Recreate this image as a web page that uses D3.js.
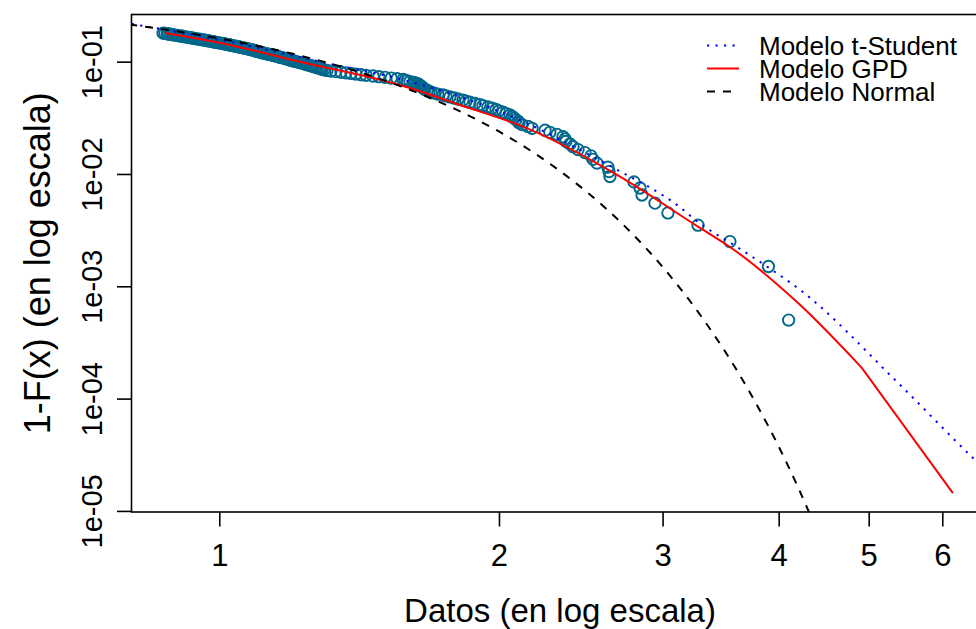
<!DOCTYPE html>
<html>
<head>
<meta charset="utf-8">
<script src="https://cdn.jsdelivr.net/npm/d3@7"></script>
<style>
  body { margin: 0; background: #fff; }
  svg { display: block; }
  text { font-family: "Liberation Sans", Arial, Helvetica, sans-serif; fill: #000; }
</style>
</head>
<body>
<svg id="chart" width="976" height="629"></svg>
<script>
// Observed data, largest first, with its empirical tail probability 1-F(x)
const datos = [
  4.100, 3.900, 3.545, 3.275, 3.040, 2.944, 2.851, 2.837, 2.795, 2.633,
  2.627, 2.620, 2.550, 2.525, 2.512, 2.475, 2.433, 2.403, 2.385, 2.361,
  2.356, 2.344, 2.309, 2.269, 2.242, 2.171, 2.149, 2.118, 2.102, 2.097,
  2.086, 2.076, 2.066, 2.055, 2.035, 2.020, 2.000, 1.985, 1.966, 1.946,
  1.922, 1.908, 1.885, 1.861, 1.843, 1.829, 1.807, 1.789, 1.771, 1.754,
  1.741, 1.719, 1.703, 1.690, 1.682, 1.674, 1.665, 1.661, 1.657, 1.653,
  1.649, 1.644, 1.640, 1.636, 1.628, 1.620, 1.604, 1.593, 1.585, 1.577,
  1.554, 1.531, 1.508, 1.485, 1.464, 1.439, 1.421, 1.403, 1.386, 1.369,
  1.352, 1.335, 1.319, 1.306, 1.296, 1.290, 1.287, 1.280, 1.274, 1.268,
  1.262, 1.258, 1.252, 1.246, 1.240, 1.237, 1.230, 1.224, 1.218, 1.212,
  1.206, 1.203, 1.197, 1.192, 1.189, 1.183, 1.177, 1.174, 1.168, 1.162,
  1.160, 1.154, 1.148, 1.145, 1.140, 1.134, 1.128, 1.126, 1.120, 1.114,
  1.112, 1.106, 1.103, 1.098, 1.095, 1.093, 1.087, 1.085, 1.079, 1.077,
  1.071, 1.066, 1.063, 1.058, 1.053, 1.050, 1.045, 1.040, 1.037, 1.032,
  1.027, 1.024, 1.019, 1.014, 1.012, 1.007, 1.002, 0.997, 0.992, 0.989,
  0.985, 0.980, 0.977, 0.972, 0.968, 0.965, 0.960, 0.956, 0.951, 0.946,
  0.942, 0.939, 0.935, 0.930, 0.928, 0.923, 0.919, 0.914, 0.912, 0.907,
  0.903, 0.901, 0.896, 0.892, 0.889, 0.885, 0.881, 0.879, 0.874, 0.870
];
const colaEmpirica = [
  0.0005, 0.0015, 0.0025, 0.0035, 0.0045, 0.0055, 0.0065, 0.0075, 0.0085, 0.0095,
  0.0105, 0.0115, 0.0125, 0.0135, 0.0145, 0.0155, 0.0165, 0.0175, 0.0185, 0.0195,
  0.0205, 0.0215, 0.0225, 0.0235, 0.0245, 0.0255, 0.0265, 0.0275, 0.0285, 0.0295,
  0.0305, 0.0315, 0.0325, 0.0335, 0.0345, 0.0355, 0.0365, 0.0375, 0.0385, 0.0395,
  0.0405, 0.0415, 0.0425, 0.0435, 0.0445, 0.0455, 0.0465, 0.0475, 0.0485, 0.0495,
  0.0505, 0.0515, 0.0525, 0.0535, 0.0545, 0.0555, 0.0565, 0.0575, 0.0585, 0.0595,
  0.0605, 0.0615, 0.0625, 0.0635, 0.0645, 0.0655, 0.0665, 0.0675, 0.0685, 0.0695,
  0.0705, 0.0715, 0.0725, 0.0735, 0.0745, 0.0755, 0.0765, 0.0775, 0.0785, 0.0795,
  0.0805, 0.0815, 0.0825, 0.0835, 0.0845, 0.0855, 0.0865, 0.0875, 0.0885, 0.0895,
  0.0905, 0.0915, 0.0925, 0.0935, 0.0945, 0.0955, 0.0965, 0.0975, 0.0985, 0.0995,
  0.1005, 0.1015, 0.1025, 0.1035, 0.1045, 0.1055, 0.1065, 0.1075, 0.1085, 0.1095,
  0.1105, 0.1115, 0.1125, 0.1135, 0.1145, 0.1155, 0.1165, 0.1175, 0.1185, 0.1195,
  0.1205, 0.1215, 0.1225, 0.1235, 0.1245, 0.1255, 0.1265, 0.1275, 0.1285, 0.1295,
  0.1305, 0.1315, 0.1325, 0.1335, 0.1345, 0.1355, 0.1365, 0.1375, 0.1385, 0.1395,
  0.1405, 0.1415, 0.1425, 0.1435, 0.1445, 0.1455, 0.1465, 0.1475, 0.1485, 0.1495,
  0.1505, 0.1515, 0.1525, 0.1535, 0.1545, 0.1555, 0.1565, 0.1575, 0.1585, 0.1595,
  0.1605, 0.1615, 0.1625, 0.1635, 0.1645, 0.1655, 0.1665, 0.1675, 0.1685, 0.1695,
  0.1705, 0.1715, 0.1725, 0.1735, 0.1745, 0.1755, 0.1765, 0.1775, 0.1785, 0.1795
];

// Fitted model tail curves, 1-F(x)
const tStudentX = [0.805, 1.002, 1.284, 1.604, 1.816, 2.14, 2.40, 2.66, 3.13, 3.275, 3.608, 3.89, 4.22, 5.363, 6.507, 6.72];
const tStudentY = [0.2166, 0.156, 0.1, 0.0664, 0.0488, 0.0284, 0.01776, 0.0113, 0.00508, 0.00374, 0.00224, 0.00149, 0.000927, 1.41e-4, 2.84e-5, 2.2e-5];

const gpdX = [0.874, 1.0, 1.221, 1.565, 1.816, 2.14, 2.68, 3.275, 3.545, 4.22, 4.918, 6.16];
const gpdY = [0.180, 0.1476, 0.1, 0.062, 0.0411, 0.0257, 0.0098, 0.0034, 0.00224, 6.8e-4, 1.87e-4, 1.44e-5];

const normalX = [0.8, 0.9, 1.0, 1.1, 1.2, 1.3, 1.4, 1.5, 1.6, 1.7, 1.8, 1.9, 2.0, 2.2, 2.4, 2.6, 2.8, 3.0, 3.2, 3.4, 3.6, 3.8, 4.0, 4.2, 4.4];
const normalY = [0.2142, 0.1864, 0.1611, 0.1381, 0.1174, 0.0990, 0.0829, 0.0688, 0.0566, 0.0462, 0.0374, 0.0300, 0.0239, 0.0147, 0.00875, 0.00503, 0.00279, 0.00149, 0.000767, 0.000381, 0.000183, 8.43e-5, 3.75e-5, 1.60e-5, 6.6e-6];

const xTicks = [1, 2, 3, 4, 5, 6];
const yTicks = [1e-1, 1e-2, 1e-3, 1e-4, 1e-5];
const yTickLabels = ["1e-01", "1e-02", "1e-03", "1e-04", "1e-05"];

const legendLabels = ["Modelo t-Student", "Modelo GPD", "Modelo Normal"];

// Layout
const plot = { left: 131.5, top: 14.5, right: 988, bottom: 512 };
const svg = d3.select("#chart");

const x = d3.scaleLog().domain([0.8045, 6.72]).range([plot.left, plot.right]);
const y = d3.scaleLog().domain([9.78e-6, 0.263]).range([plot.bottom, plot.top]);

svg.append("defs").append("clipPath").attr("id", "plotArea")
  .append("rect")
  .attr("x", plot.left).attr("y", plot.top)
  .attr("width", plot.right - plot.left).attr("height", plot.bottom - plot.top);

const area = svg.append("g").attr("clip-path", "url(#plotArea)");

// Empirical points
const puntos = datos.map((d, i) => ({ x: d, y: colaEmpirica[i] }));
area.append("g")
  .selectAll("circle")
  .data(puntos)
  .join("circle")
  .attr("cx", d => x(d.x))
  .attr("cy", d => y(d.y))
  .attr("r", 5.7)
  .attr("fill", "none")
  .attr("stroke", "#00688B")
  .attr("stroke-width", 1.9);

const smooth = d3.line().x(d => x(d[0])).y(d => y(d[1])).curve(d3.curveMonotoneX);
const straight = d3.line().x(d => x(d[0])).y(d => y(d[1]));
const pairs = (xs, ys) => xs.map((v, i) => [v, ys[i]]);

const series = [
  { xs: tStudentX, ys: tStudentY, color: "#0000FF", dash: "2.2,6.3", smoothUpTo: tStudentX.length },
  { xs: gpdX, ys: gpdY, color: "#FF0000", dash: null, smoothUpTo: gpdX.length - 1 },
  { xs: normalX, ys: normalY, color: "#000000", dash: "8,8", smoothUpTo: normalX.length }
];

series.forEach(s => {
  const pts = pairs(s.xs, s.ys);
  let d = smooth(pts.slice(0, s.smoothUpTo));
  if (s.smoothUpTo < pts.length) {
    // the last stretch of the curve is a straight segment
    d += straight(pts.slice(s.smoothUpTo - 1)).replace(/^M/, "L");
  }
  area.append("path")
    .attr("d", d)
    .attr("fill", "none")
    .attr("stroke", s.color)
    .attr("stroke-width", 2)
    .attr("stroke-dasharray", s.dash);
});

// Frame (right side lies outside the canvas)
svg.append("rect")
  .attr("x", plot.left).attr("y", plot.top)
  .attr("width", plot.right - plot.left).attr("height", plot.bottom - plot.top)
  .attr("fill", "none").attr("stroke", "#000").attr("stroke-width", 1.6);

// X axis
const xAxis = svg.append("g")
  .attr("transform", `translate(0,${plot.bottom})`)
  .call(d3.axisBottom(x).tickValues(xTicks).tickFormat(d3.format("d")).tickSize(14.5).tickSizeOuter(0));
xAxis.select(".domain").remove();
xAxis.selectAll(".tick line").attr("stroke", "#000").attr("stroke-width", 1.6);
xAxis.selectAll(".tick text")
  .attr("y", 0).attr("dy", 0)
  .attr("transform", "translate(0,54)")
  .style("font-size", "31px")
  .style("font-family", '"Liberation Sans", Arial, sans-serif');

// Y axis
const yAxis = svg.append("g")
  .attr("transform", `translate(${plot.left},0)`)
  .call(d3.axisLeft(y).tickValues(yTicks).tickFormat((d, i) => yTickLabels[i]).tickSize(14.5).tickSizeOuter(0));
yAxis.select(".domain").remove();
yAxis.selectAll(".tick line").attr("stroke", "#000").attr("stroke-width", 1.6);
yAxis.selectAll(".tick text")
  .attr("x", 0).attr("dy", 0)
  .attr("text-anchor", "middle")
  .attr("transform", "translate(-30,0) rotate(-90)")
  .style("font-size", "29px")
  .style("font-family", '"Liberation Sans", Arial, sans-serif');

// Axis titles
svg.append("text")
  .attr("x", 560).attr("y", 622)
  .attr("text-anchor", "middle")
  .style("font-size", "33px")
  .text("Datos (en log escala)");

svg.append("text")
  .attr("transform", `translate(50,${(plot.top + plot.bottom) / 2}) rotate(-90)`)
  .attr("text-anchor", "middle")
  .style("font-size", "36px")
  .text("1-F(x) (en log escala)");

// Legend
const legend = svg.append("g");
const legendRows = [45.5, 68.5, 91.5];
series.forEach((s, i) => {
  legend.append("line")
    .attr("x1", 707).attr("x2", 739)
    .attr("y1", legendRows[i]).attr("y2", legendRows[i])
    .attr("stroke", s.color).attr("stroke-width", 2)
    .attr("stroke-dasharray", s.dash);
  legend.append("text")
    .attr("x", 759).attr("y", legendRows[i])
    .attr("dy", "0.36em")
    .style("font-size", "26px")
    .text(legendLabels[i]);
});
</script>
</body>
</html>
